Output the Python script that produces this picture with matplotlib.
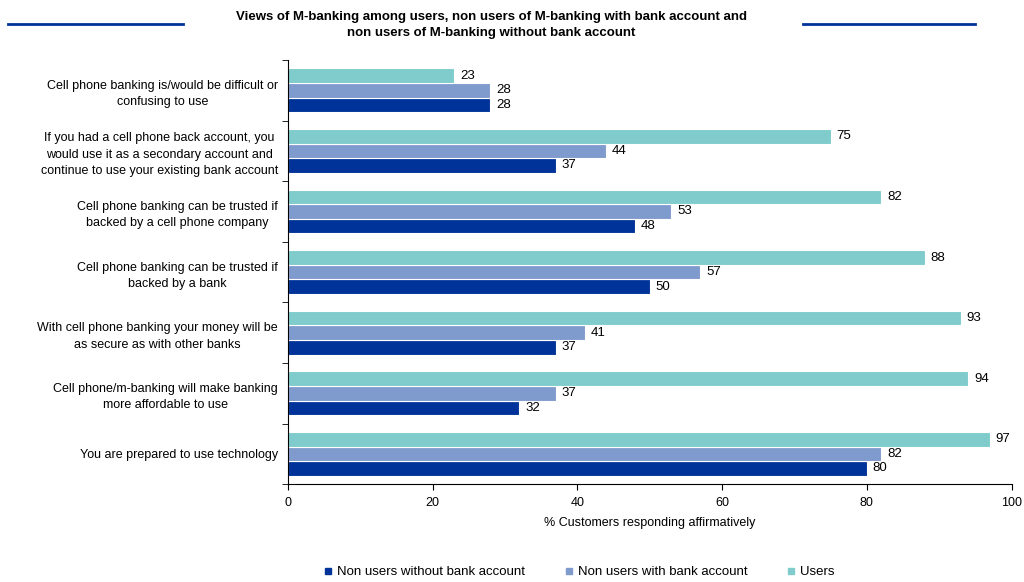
import matplotlib
matplotlib.use("Agg")
import matplotlib.pyplot as plt
import numpy as np
from matplotlib.lines import Line2D

plt.rcParams['font.family'] = ['Liberation Sans', 'DejaVu Sans']

# Categories, top to bottom
categories = [
    "Cell phone banking is/would be difficult or\nconfusing to use",
    "If you had a cell phone back account, you\nwould use it as a secondary account and\ncontinue to use your existing bank account",
    "Cell phone banking can be trusted if\nbacked by a cell phone company",
    "Cell phone banking can be trusted if\nbacked by a bank",
    "With cell phone banking your money will be\nas secure as with other banks",
    "Cell phone/m-banking will make banking\nmore affordable to use",
    "You are prepared to use technology",
]
users = [23, 75, 82, 88, 93, 94, 97]
non_users_with_bank = [28, 44, 53, 57, 41, 37, 82]
non_users_without_bank = [28, 37, 48, 50, 37, 32, 80]

series_names = ["Non users without bank account", "Non users with bank account", "Users"]
colors = ["#003399", "#7f9acd", "#80cccc"]

fig = plt.figure(figsize=(10.24, 5.82), dpi=100)
ax = fig.add_axes([0.281, 0.168, 0.707, 0.729])

n = len(categories)
y = np.arange(n)
h = 0.24
series = [non_users_without_bank, non_users_with_bank, users]
offsets = [h, 0, -h]  # y axis inverted: users on top
for vals, off, c in zip(series, offsets, colors):
    bars = ax.barh(y + off, vals, height=h, color=c, edgecolor="white", linewidth=0.8)
    for b, v in zip(bars, vals):
        ax.text(b.get_width() + 0.8, b.get_y() + b.get_height() / 2, str(v),
                va="center", ha="left", fontsize=9.5)

ax.set_xlim(0, 100)
ax.set_ylim(n - 0.5, -0.5)
ax.set_xticks([0, 20, 40, 60, 80, 100])
ax.tick_params(axis="x", labelsize=9, length=4, pad=5)
ax.set_yticks(y)
ax.set_yticklabels(categories, fontsize=9, multialignment="center", linespacing=1.5)
ax.tick_params(axis="y", which="major", length=0, pad=7)
ax.set_yticks(np.arange(-0.5, n, 1.0), minor=True)
ax.tick_params(axis="y", which="minor", length=4)
ax.set_xlabel("% Customers responding affirmatively", fontsize=9, labelpad=6)
ax.spines["top"].set_visible(False)
ax.spines["right"].set_visible(False)

fig.text(0.48, 0.957, "Views of M-banking among users, non users of M-banking with bank account and\n"
         "non users of M-banking without bank account",
         ha="center", va="center", fontsize=9.5, fontweight="bold", linespacing=1.45)
fig.add_artist(Line2D([0.008, 0.179], [0.958, 0.958], color="#003399", lw=2))
fig.add_artist(Line2D([0.784, 0.952], [0.958, 0.958], color="#003399", lw=2))

handles = [Line2D([], [], marker="s", linestyle="none", color=c, markersize=5) for c in colors]
fig.legend(handles, series_names, loc="center", bbox_to_anchor=(0.565, 0.017), ncol=3,
           frameon=False, fontsize=9.5, handlelength=0.8, handletextpad=0.3, columnspacing=2.9)

fig.savefig("out.png", dpi=100)
